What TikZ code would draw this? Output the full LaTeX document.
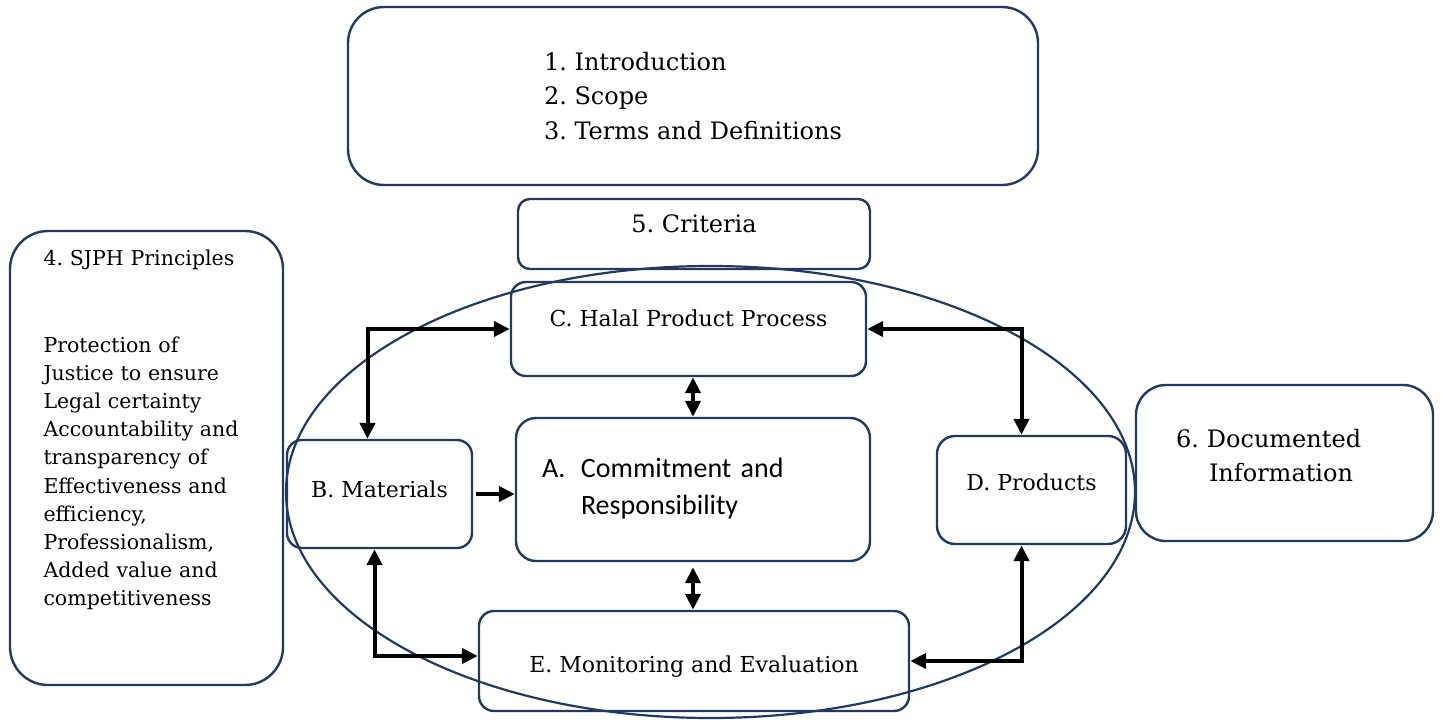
\documentclass[tikz,border=0pt]{standalone}
\usepackage{fontspec}
\setmainfont{DejaVu Serif}
\newfontfamily\calibrifont{Carlito}
\usetikzlibrary{arrows.meta}
\definecolor{boxblue}{RGB}{35,57,93}
\frenchspacing

\tikzset{
  panel/.style={draw=boxblue, line width=2.4pt, inner sep=0pt, rounded corners=#1},
  panel/.default=16pt,
  big/.style={font=\fontsize{24pt}{34.5pt}\selectfont},
  mid/.style={font=\fontsize{22pt}{28pt}\selectfont},
  tb/.style 2 args={text height=#1, text depth=#2},
  flow/.style={line width=4pt, -{Triangle[length=16pt,width=15pt]}},
  both/.style={line width=4pt, {Triangle[length=16pt,width=15pt]}-{Triangle[length=16pt,width=15pt]}},
}

\begin{document}
\begin{tikzpicture}[x=1pt,y=-1pt]
\useasboundingbox (0,0) rectangle (1441,720);
% frame round the criteria
\draw[boxblue, line width=2.2pt] (710.5,492) ellipse [x radius=424.5pt, y radius=226pt];

\node[panel=36pt, big, align=left, minimum width=690pt, minimum height=178pt] (intro) at (693,96) {1. Introduction\\2. Scope\\3. Terms and Definitions};
\node[panel=12pt, big, tb={18pt}{22pt}, minimum width=352pt, minimum height=70pt] (crit) at (694,234) {5. Criteria};
\node[panel=38pt, font=\fontsize{20.5pt}{28.2pt}\selectfont, align=left, text width=206pt, tb={15pt}{401pt}, minimum width=273pt, minimum height=454pt] (sjph) at (146.5,458) {4. SJPH Principles\\[58.8pt]
  Protection of\\Justice to ensure\\Legal certainty\\Accountability and\\transparency of\\Effectiveness and\\efficiency,\\Professionalism,\\Added value and\\competitiveness};

\node[panel=15pt, mid, tb={17pt}{22pt}, minimum width=355pt, minimum height=94pt] (c) at (688.5,329) {C. Halal Product Process};
\node[panel=20pt, font=\calibrifont\fontsize{28pt}{37pt}\selectfont, align=left, text width=302pt, tb={20pt}{44pt}, minimum width=354pt, minimum height=143pt] (a) at (693,489.5) {\makebox[39pt][l]{A.}Commitment and\\\hspace*{39pt}Responsibility};
\node[panel=15pt, mid, tb={17pt}{11pt}, minimum width=185pt, minimum height=108pt] (b) at (379.5,494) {B. Materials};
\node[panel=18pt, mid, tb={17pt}{17pt}, minimum width=189pt, minimum height=108pt] (d) at (1031.5,490) {D. Products};
\node[panel=15pt, mid, tb={22pt}{0pt}, minimum width=430pt, minimum height=100pt] (e) at (694,661) {E. Monitoring and Evaluation};
\node[panel=30pt, big, align=left, text width=217pt, tb={18pt}{50pt}, minimum width=297pt, minimum height=156pt] (doc) at (1284.5,463) {6. Documented\\\hspace*{33pt}Information};

\draw[both] (c.west) -| ([xshift=-12pt]b.north);
\draw[both] ([xshift=-5pt]b.south) |- ([yshift=5pt]e.west);
\draw[both] (c.east) -| ([xshift=-10pt]d.north);
\draw[both] ([xshift=-10pt]d.south) |- (e.east);
\draw[flow, shorten <=3pt] (b.east) -- (b.east -| a.west);
\draw[both] (a.north |- c.south) -- (a.north);
\draw[both, shorten <=5pt] (a.south) -- (a.south |- e.north);
\end{tikzpicture}
\end{document}
